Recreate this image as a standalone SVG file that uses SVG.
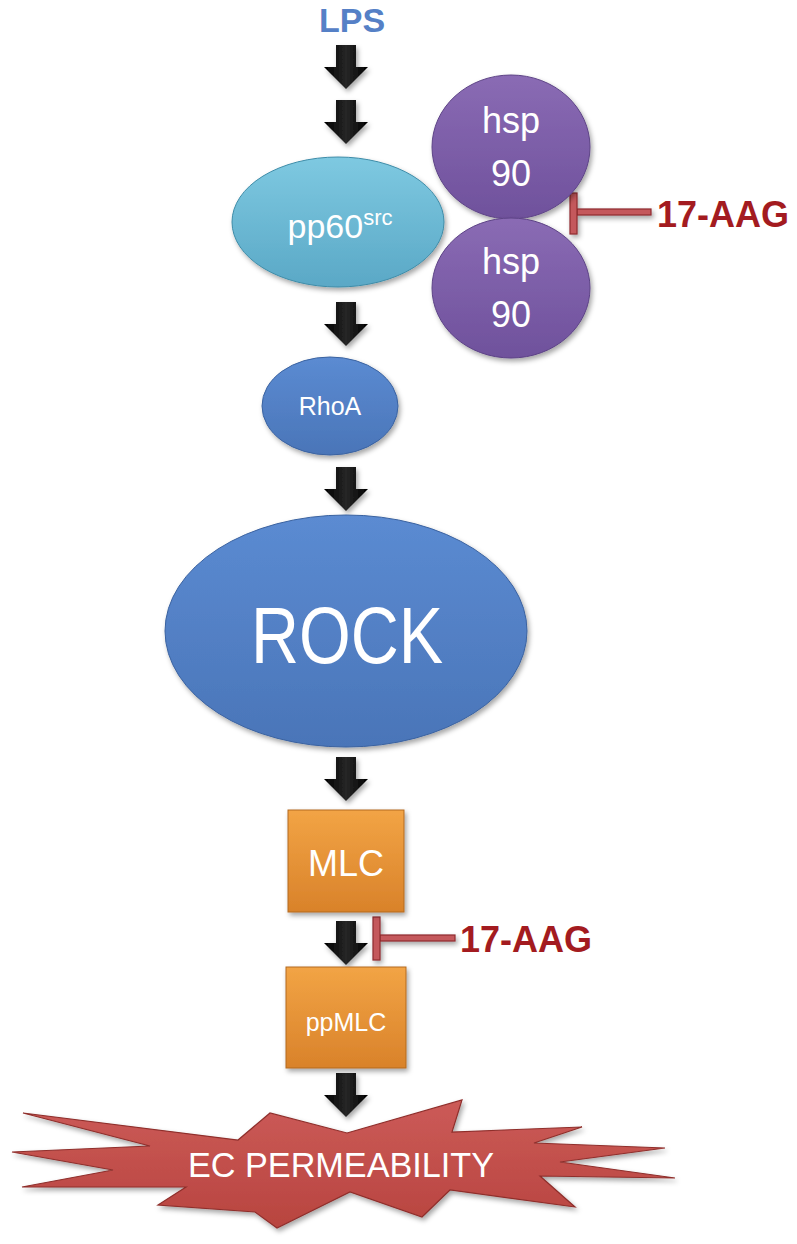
<svg xmlns="http://www.w3.org/2000/svg" width="797" height="1244" viewBox="0 0 797 1244">
  <defs>
    <style>
      text { font-family: "Liberation Sans", Arial, sans-serif; }
      .lbl { fill: #ffffff; text-anchor: middle; }
      .drug { fill: #a31b20; font-weight: bold; font-size: 36px; }
      .arrow { fill: url(#gArrow); }
      .inh { fill: #c4585b; stroke: #8e2a2e; stroke-width: 1.2; }
    </style>
    <linearGradient id="gArrow" x1="0" y1="0" x2="1" y2="0">
      <stop offset="0" stop-color="#000"/>
      <stop offset="0.5" stop-color="#262626"/>
      <stop offset="1" stop-color="#000"/>
    </linearGradient>
    <linearGradient id="gTeal" x1="0" y1="0" x2="0" y2="1">
      <stop offset="0" stop-color="#7ec9e1"/>
      <stop offset="1" stop-color="#5aa8c6"/>
    </linearGradient>
    <linearGradient id="gPurple" x1="0" y1="0" x2="0" y2="1">
      <stop offset="0" stop-color="#8a6bb4"/>
      <stop offset="1" stop-color="#6f519c"/>
    </linearGradient>
    <linearGradient id="gBlue" x1="0" y1="0" x2="0" y2="1">
      <stop offset="0" stop-color="#5b8bd2"/>
      <stop offset="1" stop-color="#4a75b8"/>
    </linearGradient>
    <linearGradient id="gOrange" x1="0" y1="0" x2="0" y2="1">
      <stop offset="0" stop-color="#f2a445"/>
      <stop offset="1" stop-color="#d9822a"/>
    </linearGradient>
    <linearGradient id="gRed" x1="0" y1="0" x2="0" y2="1">
      <stop offset="0" stop-color="#cc5b58"/>
      <stop offset="1" stop-color="#b8443f"/>
    </linearGradient>
    <filter id="shadow" x="-10%" y="-10%" width="125%" height="130%">
      <feDropShadow dx="2" dy="3" stdDeviation="2.5" flood-color="#000" flood-opacity="0.35"/>
    </filter>
    <path id="arr" d="M -10 0 L 10 0 L 10 22 L 22 22 L 0 44 L -22 22 L -10 22 Z"/>
  </defs>

  <rect x="0" y="0" width="797" height="1244" fill="#ffffff"/>

  <g id="lps">
    <text x="352" y="32" font-size="34" font-weight="bold" fill="#5580c6" text-anchor="middle">LPS</text>
  </g>

  <g id="connectors">
    <use href="#arr" class="arrow" transform="translate(346,45)" filter="url(#shadow)"/>
    <use href="#arr" class="arrow" transform="translate(346,100)" filter="url(#shadow)"/>
    <use href="#arr" class="arrow" transform="translate(346,302)" filter="url(#shadow)"/>
    <use href="#arr" class="arrow" transform="translate(346,467)" filter="url(#shadow)"/>
    <use href="#arr" class="arrow" transform="translate(346,757)" filter="url(#shadow)"/>
    <use href="#arr" class="arrow" transform="translate(346,921)" filter="url(#shadow)"/>
    <use href="#arr" class="arrow" transform="translate(346,1073)" filter="url(#shadow)"/>
    <g id="inhibit-top" filter="url(#shadow)">
      <rect class="inh" x="577" y="209" width="74" height="6"/>
      <rect class="inh" x="570" y="193" width="7" height="41"/>
    </g>
    <g id="inhibit-bottom" filter="url(#shadow)">
      <rect class="inh" x="380" y="935" width="75" height="6"/>
      <rect class="inh" x="373" y="917" width="7" height="43"/>
    </g>
  </g>

  <g id="hsp90-top">
    <ellipse cx="511" cy="147" rx="79" ry="72" fill="url(#gPurple)" stroke="#5d4386" stroke-width="1" filter="url(#shadow)"/>
    <text class="lbl" x="511" y="133" font-size="36">hsp</text>
    <text class="lbl" x="511" y="186" font-size="36">90</text>
  </g>

  <g id="hsp90-bottom">
    <ellipse cx="511" cy="288" rx="79" ry="70" fill="url(#gPurple)" stroke="#5d4386" stroke-width="1" filter="url(#shadow)"/>
    <text class="lbl" x="511" y="274" font-size="36">hsp</text>
    <text class="lbl" x="511" y="327" font-size="36">90</text>
  </g>

  <g id="pp60src">
    <ellipse cx="338" cy="222" rx="106" ry="65" fill="url(#gTeal)" stroke="#3e8ca8" stroke-width="1" filter="url(#shadow)"/>
    <text class="lbl" x="340" y="238" font-size="34">pp60<tspan font-size="22" dy="-13">src</tspan></text>
  </g>

  <g id="rhoa">
    <ellipse cx="330" cy="406" rx="68" ry="49" fill="url(#gBlue)" stroke="#3a62a0" stroke-width="1" filter="url(#shadow)"/>
    <text class="lbl" x="330" y="415" font-size="25">RhoA</text>
  </g>

  <g id="rock">
    <ellipse cx="346" cy="631" rx="181" ry="116" fill="url(#gBlue)" stroke="#3a62a0" stroke-width="1" filter="url(#shadow)"/>
    <text class="lbl" x="347" y="663" font-size="80" textLength="192" lengthAdjust="spacingAndGlyphs">ROCK</text>
  </g>

  <g id="mlc">
    <rect x="288" y="810" width="116" height="102" fill="url(#gOrange)" stroke="#b36a1e" stroke-width="1" filter="url(#shadow)"/>
    <text class="lbl" x="346" y="876" font-size="36">MLC</text>
  </g>

  <g id="ppmlc">
    <rect x="286" y="967" width="120" height="101" fill="url(#gOrange)" stroke="#b36a1e" stroke-width="1" filter="url(#shadow)"/>
    <text class="lbl" x="346" y="1031" font-size="25">ppMLC</text>
  </g>

  <g id="drug-top">
    <text class="drug" x="657" y="227">17-AAG</text>
  </g>

  <g id="drug-bottom">
    <text class="drug" x="460" y="952">17-AAG</text>
  </g>

  <g id="ec-permeability">
    <polygon points="347,1133 462,1100 452,1132 582,1127 534,1143 665,1148 560,1162 675,1178 540,1176 575,1207 450,1190 422,1217 350,1192 277,1228 255,1212 158,1205 186,1187 22,1187 113,1170 12,1152 150,1146 23,1113 238,1140 270,1113" fill="url(#gRed)" stroke="#8f2f2c" stroke-width="1.2" stroke-linejoin="miter" filter="url(#shadow)"/>
    <text class="lbl" x="341" y="1177" font-size="35" textLength="306" lengthAdjust="spacingAndGlyphs">EC PERMEABILITY</text>
  </g>
</svg>
